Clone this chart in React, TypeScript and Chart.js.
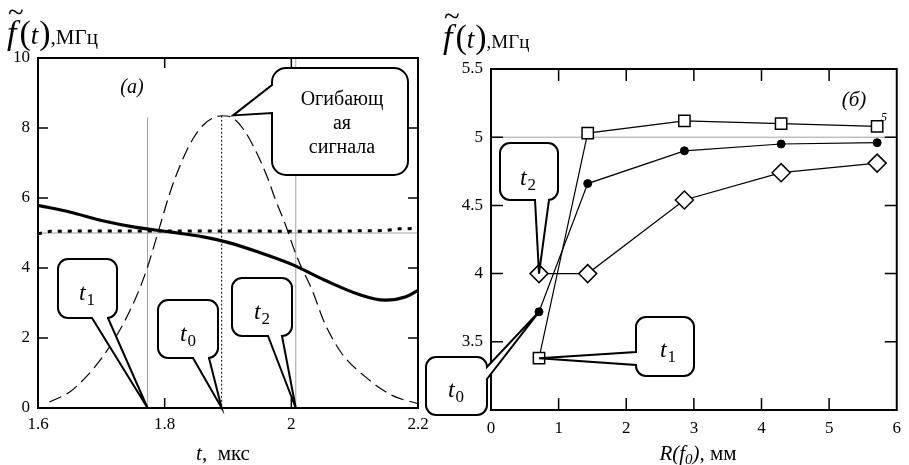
import React, { useEffect, useRef } from "react";
import { Chart, registerables } from "chart.js";
Chart.register(...registerables);

// ---------------- panel (a): data ----------------
const timeTicks = [1.6, 1.8, 2.0, 2.2];
const envelopeTime = [1.618, 1.65, 1.676, 1.702, 1.729, 1.755, 1.773, 1.792, 1.808, 1.826, 1.845, 1.862, 1.878, 1.892, 1.908, 1.925, 1.945, 1.962, 1.975, 1.99, 2.009, 2.033, 2.053, 2.08, 2.117, 2.159, 2.199];
const envelopeValue = [0.17, 0.46, 0.89, 1.46, 2.22, 3.17, 4.03, 5.17, 6.13, 7.0, 7.7, 8.1, 8.3, 8.35, 8.28, 7.95, 7.3, 6.6, 5.95, 5.27, 4.31, 3.36, 2.41, 1.55, 0.89, 0.36, 0.13];
const freqTime = [1.6, 1.65, 1.702, 1.755, 1.808, 1.861, 1.898, 1.949, 2.0, 2.053, 2.106, 2.148, 2.181, 2.2];
const freqValue = [5.79, 5.6, 5.35, 5.16, 5.03, 4.89, 4.74, 4.45, 4.11, 3.65, 3.25, 3.08, 3.18, 3.36];
const carrierTime = [1.6, 1.62, 1.7, 1.8, 1.9, 2.0, 2.1, 2.15, 2.17, 2.2];
const carrierValue = [4.98, 5.05, 5.06, 5.06, 5.06, 5.05, 5.06, 5.07, 5.12, 5.13];
const carrierRef = 5;
const instantNames = ["t1", "t0", "t2"];
const instantTimes = [1.773, 1.89, 2.007];
const envelopePeakValue = 8.3;
const envelopeCalloutPoint = [1.908, 8.36];

// ---------------- panel (б): data ----------------
const radius = [0.71, 1.43, 2.86, 4.29, 5.71];
const fSquares = [3.38, 5.03, 5.12, 5.1, 5.08];
const fCircles = [3.72, 4.66, 4.9, 4.95, 4.96];
const fDiamonds = [4.0, 4.0, 4.54, 4.74, 4.81];

const W = 909;
const H = 465;
const SERIF = "'Liberation Serif', 'Times New Roman', 'DejaVu Serif', serif";

type Seg = { t: string; font: string; dy?: number; gap?: number };

function segWidth(ctx: CanvasRenderingContext2D, segs: Seg[]) {
  let w = 0;
  for (const s of segs) {
    ctx.font = s.font;
    w += ctx.measureText(s.t).width + (s.gap || 0);
  }
  return w;
}

function drawSegs(ctx: CanvasRenderingContext2D, segs: Seg[], x: number, base: number, align: "left" | "center" = "left") {
  ctx.save();
  ctx.fillStyle = "#000";
  ctx.textAlign = "left";
  ctx.textBaseline = "alphabetic";
  let cx = x;
  if (align === "center") cx = x - segWidth(ctx, segs) / 2;
  for (const s of segs) {
    ctx.font = s.font;
    ctx.fillText(s.t, cx, base + (s.dy || 0));
    cx += ctx.measureText(s.t).width + (s.gap || 0);
  }
  ctx.restore();
}

function drawFTitle(ctx: CanvasRenderingContext2D, x: number, base: number, big: number, unit: number) {
  ctx.save();
  ctx.fillStyle = "#000";
  ctx.textBaseline = "alphabetic";
  ctx.font = `${Math.round(big * 0.85)}px ${SERIF}`;
  ctx.fillText("~", x + 1, base - big * 0.66);
  ctx.restore();
  drawSegs(ctx, [
    { t: "f", font: `italic ${big}px ${SERIF}`, gap: 3 },
    { t: "(", font: `${big}px ${SERIF}` },
    { t: "t", font: `italic ${Math.round(big * 0.8)}px ${SERIF}`, gap: 1 },
    { t: ")", font: `${big}px ${SERIF}` },
    { t: ",МГц", font: `${unit}px ${SERIF}` },
  ], x, base);
}

type Callout = { x: number; y: number; w: number; h: number; r: number; side: "left" | "right" | "bottom"; a: number; b: number };

function drawCallout(ctx: CanvasRenderingContext2D, c: Callout, tx: number, ty: number) {
  const { x, y, w, h, r } = c;
  const x2 = x + w;
  const y2 = y + h;
  ctx.save();
  ctx.beginPath();
  ctx.moveTo(x + r, y);
  ctx.lineTo(x2 - r, y);
  ctx.arcTo(x2, y, x2, y + r, r);
  if (c.side === "right") {
    ctx.lineTo(x2, c.a);
    ctx.lineTo(tx, ty);
    ctx.lineTo(x2, c.b);
  }
  ctx.lineTo(x2, y2 - r);
  ctx.arcTo(x2, y2, x2 - r, y2, r);
  if (c.side === "bottom") {
    ctx.lineTo(c.b, y2);
    ctx.lineTo(tx, ty);
    ctx.lineTo(c.a, y2);
  }
  ctx.lineTo(x + r, y2);
  ctx.arcTo(x, y2, x, y2 - r, r);
  if (c.side === "left") {
    ctx.lineTo(x, c.b);
    ctx.lineTo(tx, ty);
    ctx.lineTo(x, c.a);
  }
  ctx.lineTo(x, y + r);
  ctx.arcTo(x, y, x + r, y, r);
  ctx.closePath();
  ctx.fillStyle = "#fff";
  ctx.fill();
  ctx.lineWidth = 2;
  ctx.lineJoin = "miter";
  ctx.strokeStyle = "#000";
  ctx.stroke();
  ctx.restore();
}

function subLabel(ctx: CanvasRenderingContext2D, name: string, cx: number, cy: number) {
  drawSegs(ctx, [
    { t: name[0], font: `italic 24px ${SERIF}`, gap: 1 },
    { t: name.slice(1), font: `17px ${SERIF}`, dy: 5 },
  ], cx, cy + 7, "center");
}

function framePlugin(tickLen: number, skipEnds: boolean) {
  return {
    id: "frame",
    afterDatasetsDraw(chart: any) {
      const { ctx, chartArea: a, scales } = chart;
      ctx.save();
      ctx.strokeStyle = "#000";
      ctx.lineWidth = 2;
      ctx.strokeRect(a.left, a.top, a.right - a.left, a.bottom - a.top);
      ctx.lineWidth = 1.5;
      ctx.beginPath();
      for (const t of scales.x.ticks) {
        if (skipEnds && (t.value === scales.x.min || t.value === scales.x.max)) continue;
        const px = scales.x.getPixelForValue(t.value);
        ctx.moveTo(px, a.bottom);
        ctx.lineTo(px, a.bottom - tickLen);
        ctx.moveTo(px, a.top);
        ctx.lineTo(px, a.top + tickLen);
      }
      for (const t of scales.y.ticks) {
        if (skipEnds && (t.value === scales.y.min || t.value === scales.y.max)) continue;
        const py = scales.y.getPixelForValue(t.value);
        ctx.moveTo(a.left, py);
        ctx.lineTo(a.left + tickLen, py);
        ctx.moveTo(a.right, py);
        ctx.lineTo(a.right - tickLen, py);
      }
      ctx.stroke();
      ctx.restore();
    },
  };
}

const tickFont = { family: SERIF, size: 17 };
const plainNumber = (v: any) => String(Math.round(Number(v) * 100) / 100);

export default function App() {
  const leftRef = useRef<HTMLCanvasElement>(null);
  const rightRef = useRef<HTMLCanvasElement>(null);

  useEffect(() => {
    const pts = (xs: number[], ys: number[]) => xs.map((x, i) => ({ x, y: ys[i] }));

    // ---------- panel (a) ----------
    const leftGuides = {
      id: "leftGuides",
      beforeDatasetsDraw(chart: any) {
        const { ctx, chartArea: a, scales } = chart;
        const xs = scales.x;
        const ys = scales.y;
        ctx.save();
        ctx.strokeStyle = "#a0a0a0";
        ctx.lineWidth = 1;
        const yr = ys.getPixelForValue(carrierRef);
        ctx.beginPath();
        ctx.moveTo(a.left, yr);
        ctx.lineTo(a.right, yr);
        const x1 = xs.getPixelForValue(instantTimes[0]);
        ctx.moveTo(x1, ys.getPixelForValue(envelopePeakValue));
        ctx.lineTo(x1, a.bottom);
        const x2 = xs.getPixelForValue(instantTimes[2]);
        ctx.moveTo(x2, a.top);
        ctx.lineTo(x2, a.bottom);
        ctx.stroke();
        const x0 = xs.getPixelForValue(instantTimes[1]);
        ctx.strokeStyle = "#000";
        ctx.setLineDash([2, 2]);
        ctx.beginPath();
        ctx.moveTo(x0, ys.getPixelForValue(envelopePeakValue + 0.05));
        ctx.lineTo(x0, a.bottom);
        ctx.stroke();
        ctx.restore();
      },
      afterDraw(chart: any) {
        const { ctx, scales } = chart;
        const xs = scales.x;
        const ys = scales.y;
        drawCallout(ctx, { x: 272, y: 68, w: 136, h: 107, r: 14, side: "left", a: 85, b: 113 },
          xs.getPixelForValue(envelopeCalloutPoint[0]), ys.getPixelForValue(envelopeCalloutPoint[1]));
        const f20 = `20px ${SERIF}`;
        drawSegs(ctx, [{ t: "Огибающ", font: f20 }], 342, 105, "center");
        drawSegs(ctx, [{ t: "ая", font: f20 }], 342, 129, "center");
        drawSegs(ctx, [{ t: "сигнала", font: f20 }], 342, 153, "center");
        const boxes: Callout[] = [
          { x: 58, y: 259, w: 59, h: 59, r: 10, side: "bottom", a: 92, b: 108 },
          { x: 158, y: 300, w: 60, h: 58, r: 10, side: "bottom", a: 193, b: 209 },
          { x: 232, y: 278, w: 60, h: 58, r: 10, side: "bottom", a: 268, b: 282 },
        ];
        const labelPos = [[87, 293], [188, 334], [262, 312]];
        boxes.forEach((b, i) => {
          drawCallout(ctx, b, xs.getPixelForValue(instantTimes[i]), ys.getPixelForValue(0));
          subLabel(ctx, instantNames[i], labelPos[i][0], labelPos[i][1]);
        });
        drawSegs(ctx, [{ t: "(a)", font: `italic 20px ${SERIF}` }], 132, 93, "center");
        drawFTitle(ctx, 7, 44, 34, 21);
        drawSegs(ctx, [
          { t: "t", font: `italic 21px ${SERIF}` },
          { t: ",  мкс", font: `21px ${SERIF}` },
        ], 223, 460, "center");
      },
    };

    const left = new Chart(leftRef.current!, {
      type: "line",
      data: {
        datasets: [
          {
            data: pts(envelopeTime, envelopeValue),
            borderColor: "#000",
            borderWidth: 1.2,
            borderDash: [13, 6],
            pointRadius: 0,
            cubicInterpolationMode: "monotone",
            fill: false,
          },
          {
            data: pts(carrierTime, carrierValue),
            borderColor: "#000",
            borderWidth: 3,
            borderDash: [4, 6],
            borderCapStyle: "butt",
            pointRadius: 0,
            fill: false,
          },
          {
            data: pts(freqTime, freqValue),
            borderColor: "#000",
            borderWidth: 3.2,
            pointRadius: 0,
            cubicInterpolationMode: "monotone",
            fill: false,
          },
        ],
      },
      options: {
        animation: false,
        responsive: false,
        events: [],
        layout: { padding: { left: 0, top: 58, right: W - 418, bottom: 0 } },
        plugins: { legend: { display: false }, tooltip: { enabled: false } },
        scales: {
          x: {
            type: "linear",
            min: 1.6,
            max: 2.2,
            afterBuildTicks: (s: any) => {
              s.ticks = timeTicks.map((v) => ({ value: v }));
            },
            afterFit: (s: any) => {
              s.height = H - 408;
            },
            grid: { display: false, drawTicks: false },
            border: { display: false },
            ticks: { color: "#000", font: tickFont, padding: 6, maxRotation: 0, callback: plainNumber },
          },
          y: {
            min: 0,
            max: 10,
            afterFit: (s: any) => {
              s.width = 38;
            },
            grid: { display: false, drawTicks: false },
            border: { display: false },
            ticks: { color: "#000", font: tickFont, padding: 8, stepSize: 2, callback: plainNumber },
          },
        },
      },
      plugins: [leftGuides, framePlugin(10, true)],
    } as any);

    // ---------- panel (б) ----------
    const rightExtras = {
      id: "rightExtras",
      beforeDatasetsDraw(chart: any) {
        const { ctx, chartArea: a, scales } = chart;
        const yr = scales.y.getPixelForValue(carrierRef);
        ctx.save();
        ctx.strokeStyle = "#a0a0a0";
        ctx.lineWidth = 1;
        ctx.beginPath();
        ctx.moveTo(a.left, yr);
        ctx.lineTo(a.right, yr);
        ctx.stroke();
        ctx.restore();
      },
      afterDraw(chart: any) {
        const { ctx, scales } = chart;
        const xs = scales.x;
        const ys = scales.y;
        const rx = xs.getPixelForValue(radius[0]);
        drawCallout(ctx, { x: 500, y: 143, w: 58, h: 57, r: 10, side: "bottom", a: 535, b: 549 }, rx, ys.getPixelForValue(fDiamonds[0]));
        subLabel(ctx, "t2", 528, 178);
        drawCallout(ctx, { x: 636, y: 317, w: 58, h: 59, r: 10, side: "left", a: 352, b: 365 }, rx, ys.getPixelForValue(fSquares[0]));
        subLabel(ctx, "t1", 668, 350);
        drawCallout(ctx, { x: 426, y: 357, w: 61, h: 58, r: 10, side: "right", a: 367, b: 379 }, rx, ys.getPixelForValue(fCircles[0]));
        subLabel(ctx, "t0", 456, 390);
        drawSegs(ctx, [{ t: "(б)", font: `italic 21px ${SERIF}` }], 854, 106, "center");
        drawSegs(ctx, [{ t: "5", font: `italic 12px ${SERIF}` }], 884, 121, "center");
        drawFTitle(ctx, 443, 48, 34, 19);
        drawSegs(ctx, [
          { t: "R(f", font: `italic 21px ${SERIF}` },
          { t: "0", font: `italic 15px ${SERIF}`, dy: 4 },
          { t: "),", font: `italic 21px ${SERIF}` },
          { t: " мм", font: `21px ${SERIF}` },
        ], 698, 460, "center");
      },
    };

    const right = new Chart(rightRef.current!, {
      type: "line",
      data: {
        datasets: [
          {
            data: pts(radius, fSquares),
            borderColor: "#000",
            borderWidth: 1.2,
            pointStyle: "rect",
            pointRadius: 8,
            pointBorderWidth: 1.5,
            pointBackgroundColor: "#fff",
            pointBorderColor: "#000",
            fill: false,
          },
          {
            data: pts(radius, fCircles),
            borderColor: "#000",
            borderWidth: 1.2,
            pointStyle: "circle",
            pointRadius: 4,
            pointBorderWidth: 1,
            pointBackgroundColor: "#000",
            pointBorderColor: "#000",
            fill: false,
          },
          {
            data: pts(radius, fDiamonds),
            borderColor: "#000",
            borderWidth: 1.2,
            pointStyle: "rectRot",
            pointRadius: 9,
            pointBorderWidth: 1.5,
            pointBackgroundColor: "#fff",
            pointBorderColor: "#000",
            fill: false,
          },
        ],
      },
      options: {
        animation: false,
        responsive: false,
        events: [],
        layout: { padding: { left: 451, top: 69, right: W - 900, bottom: 0 } },
        plugins: { legend: { display: false }, tooltip: { enabled: false } },
        scales: {
          x: {
            type: "linear",
            min: 0,
            max: 6,
            afterFit: (s: any) => {
              s.height = H - 410;
            },
            grid: { display: false, drawTicks: false },
            border: { display: false },
            ticks: { color: "#000", font: tickFont, padding: 8, stepSize: 1, maxRotation: 0, callback: plainNumber },
          },
          y: {
            min: 3,
            max: 5.5,
            afterFit: (s: any) => {
              s.width = 40;
            },
            grid: { display: false, drawTicks: false },
            border: { display: false },
            ticks: { color: "#000", font: tickFont, padding: 8, stepSize: 0.5, callback: plainNumber },
          },
        },
      },
      plugins: [rightExtras, framePlugin(12, true)],
    } as any);

    return () => {
      left.destroy();
      right.destroy();
    };
  }, []);

  const cStyle: React.CSSProperties = { position: "absolute", left: 0, top: 0, width: W, height: H };
  return (
    <div style={{ position: "fixed", left: 0, top: 0, width: W, height: H, background: "#fff" }}>
      <canvas ref={leftRef} width={W} height={H} style={cStyle} />
      <canvas ref={rightRef} width={W} height={H} style={cStyle} />
    </div>
  );
}
